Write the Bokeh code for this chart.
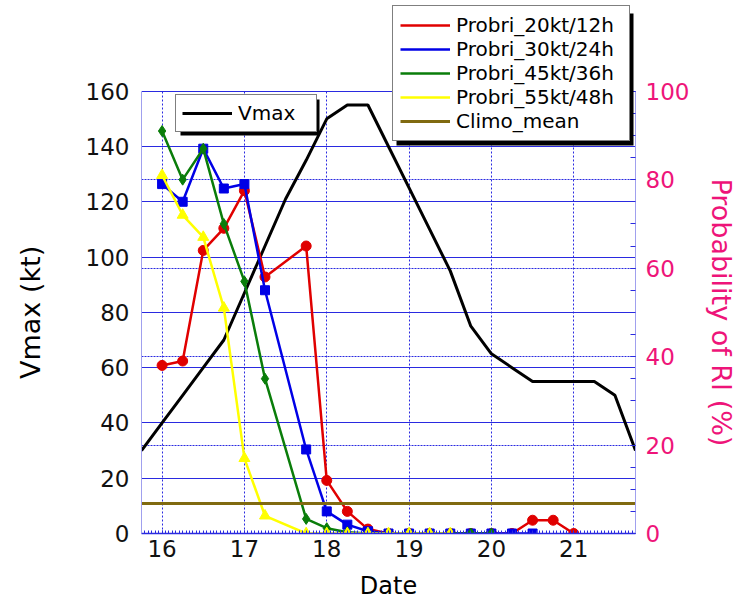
from bokeh.plotting import figure
from bokeh.models import (Range1d, LinearAxis, FixedTicker, Grid, Legend, LegendItem,
                          BoxAnnotation)
from bokeh.embed import file_html
from bokeh.resources import INLINE

# ---------------- data ----------------
vmax_dates = [15.75, 16.0, 16.25, 16.5, 16.75, 17.0, 17.25, 17.5, 17.75, 18.0, 18.25, 18.5,
              18.75, 19.0, 19.25, 19.5, 19.75, 20.0, 20.25, 20.5, 20.75, 21.0, 21.25, 21.5, 21.75]
vmax = [30, 40, 50, 60, 70, 87, 104, 121, 135, 150, 155, 155,
        140, 125, 110, 95, 75, 65, 60, 55, 55, 55, 55, 50, 30]

p20_dates = [16.0, 16.25, 16.5, 16.75, 17.0, 17.25, 17.75, 18.0, 18.25, 18.5,
             18.75, 19.0, 19.25, 19.5, 19.75, 20.0, 20.25, 20.5, 20.75, 21.0]
p20 = [38, 39, 64, 69, 77.5, 58, 65, 12, 5, 1, 0, 0, 0, 0, 0, 0, 0, 3, 3, 0]

p30_dates = [16.0, 16.25, 16.5, 16.75, 17.0, 17.25, 17.75, 18.0, 18.25, 18.5,
             18.75, 19.0, 19.25, 19.5, 19.75, 20.0, 20.25, 20.5]
p30 = [79, 75, 87, 78, 79, 55, 19, 5, 2, 0.5, 0, 0, 0, 0, 0, 0, 0, 0]

p45_dates = [16.0, 16.25, 16.5, 16.75, 17.0, 17.25, 17.75, 18.0, 18.25, 18.5,
             18.75, 19.0, 19.25, 19.5, 19.75, 20.0]
p45 = [91, 80, 87, 70, 57, 35, 3.3, 1.2, 0.3, 0, 0, 0, 0, 0, 0, 0]

p55_dates = [16.0, 16.25, 16.5, 16.75, 17.0, 17.25, 17.75, 18.0, 18.25, 18.5,
             18.75, 19.0, 19.25, 19.5]
p55 = [81, 72, 67, 51, 17, 4, 0, 0, 0, 0, 0, 0, 0, 0]

climo_dates = [15.75, 21.75]
climo = [6.8, 6.8]

x_ticks = [16, 17, 18, 19, 20, 21]
vmax_ticks = [0, 20, 40, 60, 80, 100, 120, 140, 160]
prob_ticks = [0, 20, 40, 60, 80, 100]

FONT = "DejaVu Sans"
PINK = "#ee1479"
RED = "#e00000"
BLUE = "#0000e6"
GREEN = "#0a7d0a"
YELLOW = "#ffff00"
OLIVE = "#806a10"
GRIDBLUE = "#2a2ae0"
FRAMEBLUE = "#a0a0ee"
NBSP = "\u00a0"

# frame: top of canvas +5 .. y=533 ; the 160 kt / 100 % level sits at y ~ 90.7
FRAME_TOP, FRAME_BOTTOM, TOP_LEVEL_Y = 5, 533, 90.7
v_end = vmax_ticks[-1] * (FRAME_BOTTOM - FRAME_TOP) / (FRAME_BOTTOM - TOP_LEVEL_Y)
p_end = v_end * prob_ticks[-1] / vmax_ticks[-1]

p = figure(width=740, height=602, x_range=Range1d(15.75, 21.75), y_range=Range1d(0, v_end),
           output_backend="svg", toolbar_location=None,
           min_border_left=141, min_border_right=105, min_border_top=FRAME_TOP,
           min_border_bottom=602 - FRAME_BOTTOM)
p.outline_line_color = None
p.background_fill_color = "white"
p.extra_y_ranges = {"prob": Range1d(0, p_end)}

# grids
p.ygrid.ticker = FixedTicker(ticks=vmax_ticks[1:])
p.ygrid.grid_line_color = GRIDBLUE
p.ygrid.grid_line_width = 1
p.xgrid.ticker = FixedTicker(ticks=x_ticks)
p.xgrid.grid_line_color = GRIDBLUE
p.xgrid.grid_line_dash = "2 2"
pgrid = Grid(dimension=1, ticker=FixedTicker(ticks=prob_ticks[1:-1]), y_range_name="prob",
             grid_line_color=GRIDBLUE, grid_line_dash="2 1", grid_line_width=1.2)
p.add_layout(pgrid, "center")
# blank out the grid above the top of the plotting area (legend lives there)
p.add_layout(BoxAnnotation(bottom=vmax_ticks[-1] + 0.3, fill_color="white", fill_alpha=1,
                           line_color=None, level="underlay"))

# left axis (label padded so it is centred on the 0-160 part of the axis)
ya = p.yaxis[0]
ya.ticker = FixedTicker(ticks=vmax_ticks)
ya.bounds = (vmax_ticks[0], vmax_ticks[-1])
ya.axis_label = "Vmax (kt)" + NBSP * 10
ya.axis_label_text_font = FONT
ya.axis_label_text_font_size = "27px"
ya.axis_label_text_font_style = "normal"
ya.axis_label_text_color = "black"
ya.axis_label_standoff = 37
ya.major_label_text_font = FONT
ya.major_label_text_font_size = "23px"
ya.major_label_text_color = "#111111"
ya.major_label_standoff = 12
ya.major_tick_in = 0
ya.major_tick_out = 0
ya.minor_tick_line_color = None
ya.axis_line_color = FRAMEBLUE

# right axis
ra = LinearAxis(y_range_name="prob",
                ticker=FixedTicker(ticks=prob_ticks, minor_ticks=list(range(0, 101, 5))))
ra.bounds = (prob_ticks[0], prob_ticks[-1])
ra.axis_label = NBSP * 10 + "Probability of RI (%)"
ra.axis_label_text_font = FONT
ra.axis_label_text_font_size = "27px"
ra.axis_label_text_font_style = "normal"
ra.axis_label_text_color = PINK
ra.axis_label_standoff = 14
ra.major_label_text_font = FONT
ra.major_label_text_font_size = "23px"
ra.major_label_text_color = PINK
ra.major_label_standoff = 10
ra.major_tick_in = 5
ra.major_tick_out = 0
ra.minor_tick_in = 5
ra.minor_tick_out = 0
ra.major_tick_line_color = GRIDBLUE
ra.minor_tick_line_color = GRIDBLUE
ra.axis_line_color = FRAMEBLUE
p.add_layout(ra, "right")

# bottom axis
xa = p.xaxis[0]
hourly = [15.75 + i / 24 for i in range(0, 6 * 24 + 1)]
xa.ticker = FixedTicker(ticks=x_ticks, minor_ticks=hourly)
xa.axis_label = "Date"
xa.axis_label_text_font = FONT
xa.axis_label_text_font_size = "24px"
xa.axis_label_text_font_style = "normal"
xa.axis_label_text_color = "black"
xa.axis_label_standoff = 12
xa.major_label_text_font = FONT
xa.major_label_text_font_size = "23px"
xa.major_label_text_color = "#111111"
xa.major_label_standoff = 6
xa.major_tick_in = 3
xa.major_tick_out = 0
xa.minor_tick_in = 3
xa.minor_tick_out = 0
xa.major_tick_line_color = GRIDBLUE
xa.minor_tick_line_color = GRIDBLUE
xa.axis_line_color = GRIDBLUE
xa.axis_line_width = 1.5

# data
r_vmax = p.line(vmax_dates, vmax, line_color="black", line_width=3)

l20 = p.line(p20_dates, p20, y_range_name="prob", line_color=RED, line_width=2.5)
s20 = p.scatter(p20_dates, p20, y_range_name="prob", marker="circle", size=10,
                fill_color=RED, line_color=RED)
l30 = p.line(p30_dates, p30, y_range_name="prob", line_color=BLUE, line_width=2.5)
s30 = p.scatter(p30_dates, p30, y_range_name="prob", marker="square", size=9,
                fill_color=BLUE, line_color=BLUE)
l45 = p.line(p45_dates, p45, y_range_name="prob", line_color=GREEN, line_width=2.5)
s45 = p.scatter(p45_dates, p45, y_range_name="prob", marker="diamond", size=11,
                fill_color=GREEN, line_color=GREEN)
l55 = p.line(p55_dates, p55, y_range_name="prob", line_color=YELLOW, line_width=2.5)
s55 = p.scatter(p55_dates, p55, y_range_name="prob", marker="triangle", size=11,
                fill_color=YELLOW, line_color=YELLOW)
lcl = p.line(climo_dates, climo, y_range_name="prob", line_color=OLIVE, line_width=3)

# smaller marker samples for the legend only (no data)
def legend_marker(marker, color, size):
    return p.scatter([], [], marker=marker, size=size, fill_color=color, line_color=color)

m20 = legend_marker("circle", RED, 7)
m30 = legend_marker("square", BLUE, 7)
m45 = legend_marker("diamond", GREEN, 8)
m55 = legend_marker("triangle", YELLOW, 8)

# legend shadows
p.add_layout(BoxAnnotation(left=396, right=633, top=13, bottom=145,
                           left_units="canvas", right_units="canvas",
                           top_units="canvas", bottom_units="canvas",
                           fill_color="black", fill_alpha=1, line_color=None))
p.add_layout(BoxAnnotation(left=180, right=319, top=99, bottom=135,
                           left_units="canvas", right_units="canvas",
                           top_units="canvas", bottom_units="canvas",
                           fill_color="black", fill_alpha=1, line_color=None))

leg_main = Legend(items=[
    LegendItem(label="Probri_20kt/12h", renderers=[l20, m20]),
    LegendItem(label="Probri_30kt/24h", renderers=[l30, m30]),
    LegendItem(label="Probri_45kt/36h", renderers=[l45, m45]),
    LegendItem(label="Probri_55kt/48h", renderers=[l55, m55]),
    LegendItem(label="Climo_mean", renderers=[lcl]),
], location=(251, 392))
leg_v = Legend(items=[LegendItem(label="Vmax", renderers=[r_vmax])], location=(34, 401))
for lg, lw in ((leg_main, 166), (leg_v, 72)):
    lg.label_text_font = FONT
    lg.label_text_font_size = "20px"
    lg.label_text_color = "black"
    lg.glyph_width = 50
    lg.glyph_height = 20
    lg.label_standoff = 6
    lg.label_width = lw
    lg.spacing = 0
    lg.padding = 7 if lg is leg_main else 6
    lg.margin = 0
    lg.border_line_color = "black"
    lg.border_line_width = 1.5
    lg.background_fill_color = "white"
    lg.background_fill_alpha = 1
    p.add_layout(lg, "center")

open("out.html", "w").write(file_html(p, INLINE))
